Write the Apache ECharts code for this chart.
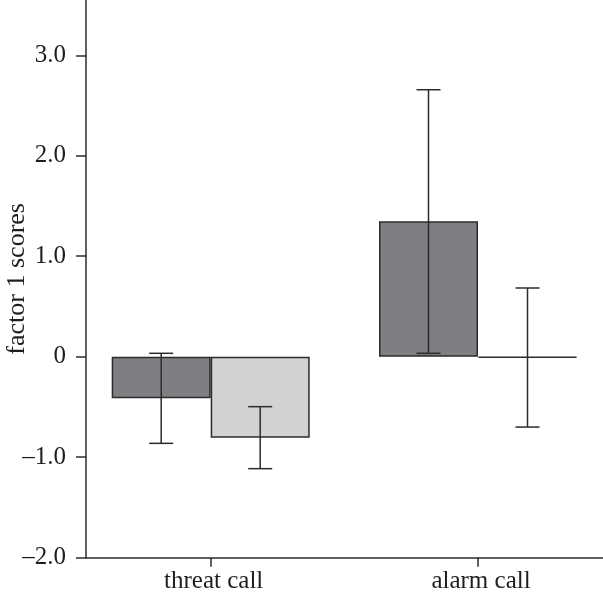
<!DOCTYPE html>
<html>
<head>
<meta charset="utf-8">
<script src="https://cdn.jsdelivr.net/npm/echarts@6/dist/echarts.min.js"></script>
<style>
html,body{margin:0;padding:0;background:#fff;}
#chart{width:603px;height:596px;}
</style>
</head>
<body>
<div id="chart"></div>
<script>
// ---- data ----
const categories = ['threat call', 'alarm call'];
const catPositions = [1, 2];
const darkMeans = [-0.414, 1.347];
const darkLow = [-0.862, 0.034];
const darkHigh = [0.034, 2.657];
const lightMeans = [-0.806, -0.008];
const lightLow = [-1.114, -0.70];
const lightHigh = [-0.497, 0.684];
const yTicks = [-2, -1, 0, 1, 2, 3];

const FONT = '"Liberation Serif", "DejaVu Serif", serif';
const INK = '#2b2b2b';
const TEXT = '#1e1e1e';
const BAR_W = 99;

function fmtY(v) {
  if (v === 0) return '0';
  if (v < 0) return '\u2013' + Math.abs(v).toFixed(1);
  return v.toFixed(1);
}

function errSeries(low, high, side) {
  return {
    type: 'custom',
    z: 5,
    data: catPositions.map((p, i) => [p, low[i], high[i]]),
    renderItem: function (params, api) {
      const x = api.value(0);
      const lo = api.coord([x, api.value(1)]);
      const hi = api.coord([x, api.value(2)]);
      const cx = lo[0] + side * BAR_W / 2;
      const cap = 12;
      const style = { stroke: INK, lineWidth: 1.5, fill: null };
      return {
        type: 'group',
        children: [
          { type: 'line', shape: { x1: cx, y1: lo[1], x2: cx, y2: hi[1] }, style: style },
          { type: 'line', shape: { x1: cx - cap, y1: lo[1], x2: cx + cap, y2: lo[1] }, style: style },
          { type: 'line', shape: { x1: cx - cap, y1: hi[1], x2: cx + cap, y2: hi[1] }, style: style }
        ]
      };
    }
  };
}

const chart = echarts.init(document.getElementById('chart'), null, { renderer: 'canvas' });
chart.setOption({
  animation: false,
  backgroundColor: '#fff',
  grid: { left: 86, right: 0, top: 0, bottom: 38.3, containLabel: false, outerBoundsMode: 'none' },
  xAxis: {
    type: 'value',
    min: 0.5335,
    max: 2.4676,
    splitLine: { show: false },
    axisLine: { show: true, onZero: false, lineStyle: { color: INK, width: 1.5 } },
    axisTick: { show: true, customValues: catPositions, length: 9, lineStyle: { color: INK, width: 1.5 } },
    axisLabel: {
      customValues: catPositions,
      formatter: function (v) { const i = catPositions.indexOf(v); return i >= 0 ? categories[i] : ''; },
      color: TEXT, fontFamily: FONT, fontSize: 25, margin: 11, padding: [0, 0, 0, 6]
    }
  },
  yAxis: {
    type: 'value',
    min: -2,
    max: 3.55,
    interval: 1,
    name: 'factor 1 scores',
    nameLocation: 'middle',
    nameGap: 56,
    nameMoveOverlap: false,
    nameTextStyle: { color: TEXT, fontFamily: FONT, fontSize: 26 },
    splitLine: { show: false },
    axisLine: { show: true, onZero: false, lineStyle: { color: INK, width: 1.5 } },
    axisTick: { show: true, customValues: yTicks, length: 10, lineStyle: { color: INK, width: 1.5 } },
    axisLabel: {
      customValues: yTicks,
      formatter: fmtY,
      color: TEXT, fontFamily: FONT, fontSize: 25, margin: 20
    }
  },
  series: [
    {
      type: 'bar',
      barWidth: BAR_W,
      barGap: '0%',
      data: catPositions.map((p, i) => [p, darkMeans[i]]),
      itemStyle: { color: '#7e7f82', borderColor: INK, borderWidth: 1.5 }
    },
    {
      type: 'bar',
      barWidth: BAR_W,
      barGap: '0%',
      data: catPositions.map((p, i) => [p, lightMeans[i]]),
      itemStyle: { color: '#d1d2d4', borderColor: INK, borderWidth: 1.5 }
    },
    errSeries(darkLow, darkHigh, -1),
    errSeries(lightLow, lightHigh, 1)
  ]
});
</script>
</body>
</html>
